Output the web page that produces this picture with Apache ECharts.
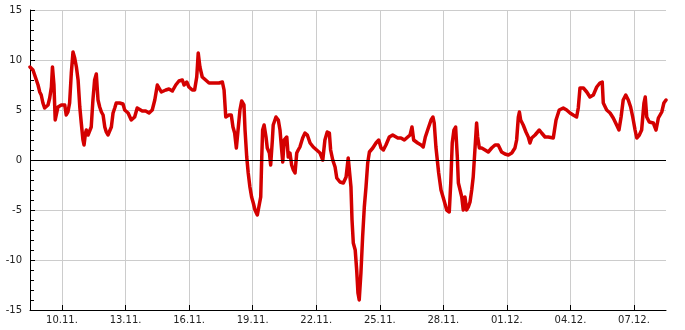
<!DOCTYPE html>
<html>
<head>
<meta charset="utf-8">
<script src="https://cdn.jsdelivr.net/npm/echarts@6/dist/echarts.min.js"></script>
<style>
html,body{margin:0;padding:0;background:#fff;}
#chart{width:685px;height:330px;}
</style>
</head>
<body>
<div id="chart"></div>
<script>
// x values: day of November (1.11. 00:00 = 1); values > 30 continue into December
const days = [
  8.49,8.63,8.71,8.87,8.95,9.02,9.10,9.18,9.26,9.34,
  9.42,9.50,9.55,9.62,9.68,9.72,9.81,9.97,10.13,10.20,
  10.28,10.36,10.44,10.52,10.60,10.68,10.76,10.84,10.91,10.99,
  11.04,11.11,11.15,11.23,11.31,11.38,11.46,11.54,11.62,11.70,
  11.78,11.86,11.94,12.02,12.09,12.17,12.25,12.33,12.41,12.49,
  12.56,12.72,12.79,12.88,12.96,13.12,13.27,13.35,13.43,13.55,
  13.63,13.79,13.95,14.11,14.26,14.38,14.50,14.58,14.69,14.90,
  15.05,15.21,15.37,15.52,15.68,15.76,15.89,15.99,16.15,16.26,
  16.36,16.43,16.51,16.62,16.78,16.94,17.17,17.41,17.57,17.65,
  17.73,17.88,17.99,18.07,18.15,18.23,18.31,18.40,18.48,18.59,
  18.64,18.72,18.79,18.87,18.95,19.03,19.11,19.22,19.31,19.38,
  19.43,19.47,19.54,19.63,19.69,19.79,19.85,19.93,19.97,20.10,
  20.21,20.29,20.37,20.42,20.49,20.61,20.68,20.76,20.84,20.92,
  21.00,21.08,21.15,21.23,21.36,21.47,21.58,21.71,21.86,22.02,
  22.18,22.31,22.41,22.52,22.62,22.68,22.78,22.89,22.97,23.12,
  23.28,23.41,23.51,23.57,23.64,23.69,23.75,23.84,23.91,23.97,
  24.03,24.11,24.19,24.27,24.35,24.43,24.51,24.67,24.82,24.95,
  25.06,25.17,25.29,25.45,25.61,25.85,26.00,26.16,26.32,26.43,
  26.52,26.60,26.79,26.95,27.05,27.15,27.26,27.42,27.51,27.57,
  27.65,27.78,27.89,28.00,28.08,28.16,28.28,28.35,28.42,28.50,
  28.58,28.66,28.71,28.79,28.87,28.94,29.02,29.10,29.18,29.26,
  29.34,29.41,29.49,29.57,29.62,29.70,29.81,29.97,30.12,30.28,
  30.44,30.59,30.75,30.91,31.07,31.23,31.38,31.46,31.54,31.59,
  31.65,31.77,31.90,32.01,32.09,32.17,32.33,32.53,32.64,32.80,
  32.95,33.19,33.32,33.47,33.66,33.82,33.98,34.13,34.29,34.37,
  34.45,34.61,34.77,34.92,35.08,35.24,35.39,35.50,35.55,35.71,
  35.87,36.02,36.18,36.29,36.39,36.49,36.61,36.73,36.84,36.94,
  37.05,37.13,37.25,37.36,37.47,37.53,37.60,37.72,37.91,38.04,
  38.15,38.31,38.41,38.51
];
const values = [
  9.3,9.0,8.5,7.5,6.8,6.5,5.7,5.2,5.3,5.5,
  6.2,7.3,9.3,7.5,4.0,3.9,5.3,5.5,5.5,4.5,
  4.8,5.7,8.7,10.8,10.2,9.3,8.0,5.3,3.7,2.0,
  1.5,2.7,3.0,2.5,2.3,3.3,6.0,8.0,8.6,6.0,
  5.3,4.8,4.5,3.3,2.8,2.5,2.6,3.3,4.7,5.2,
  5.7,5.7,5.9,5.6,5.0,4.7,4.0,3.8,4.3,5.2,
  5.3,4.9,4.9,4.7,5.0,6.0,7.5,7.7,6.8,7.0,
  7.1,6.9,7.5,7.9,8.0,7.5,7.8,7.3,7.0,7.0,
  8.3,10.7,9.3,8.3,8.0,7.7,7.7,7.7,7.8,7.0,
  4.3,4.5,4.5,3.3,2.7,1.2,1.2,5.0,5.9,5.5,
  3.0,0.3,-1.3,-2.7,-3.7,-4.3,-5.0,-5.5,-5.7,-3.7,
  0.3,3.0,3.5,2.3,1.2,0.7,-0.5,2.0,3.5,4.3,
  4.0,3.0,1.0,-0.2,2.0,2.3,0.3,0.7,-0.5,-1.0,
  -1.3,0.7,1.0,1.3,2.2,2.7,2.5,1.7,1.3,1.0,
  0.7,0.0,2.0,2.8,2.7,1.0,0.0,-0.7,-1.8,-2.2,
  -2.3,-1.7,0.2,0.0,-2.7,-6.0,-8.3,-9.0,-11.0,-13.3,
  -14.0,-11.3,-7.7,-4.7,-2.7,-0.3,0.8,1.2,1.7,2.0,
  1.2,1.0,1.5,2.3,2.5,2.2,2.2,2.0,2.3,2.5,
  3.3,2.0,1.7,1.5,1.3,2.3,3.0,4.0,4.3,3.7,
  1.3,-1.3,-3.0,-3.8,-4.0,-5.0,-5.2,-2.3,1.7,3.0,
  3.3,0.3,-2.3,-3.0,-3.7,-5.0,-3.7,-5.0,-4.7,-4.2,
  -3.0,-1.7,1.0,3.7,2.3,1.2,1.2,1.0,0.8,1.2,
  1.5,1.5,0.8,0.6,0.5,0.7,1.2,2.0,4.3,4.8,
  4.0,3.5,2.8,2.3,1.7,2.2,2.5,3.0,2.7,2.3,
  2.3,2.2,4.0,5.0,5.2,5.0,4.7,4.5,4.3,5.2,
  7.2,7.2,6.8,6.3,6.5,7.3,7.7,7.8,5.7,5.0,
  4.7,4.2,3.5,3.0,4.3,6.0,6.5,6.0,5.3,4.3,
  3.0,2.2,2.5,3.0,5.7,6.3,4.3,3.8,3.7,3.0,
  4.2,4.8,5.7,6.0
];
const xTickDays = [10,13,16,19,22,25,28,31,34,37];
const yTicks = [-15,-10,-5,0,5,10,15];

function dayLabel(v) {
  let d = Math.round(v), m = 11;
  if (d > 30) { d -= 30; m = 12; }
  return String(d).padStart(2,'0') + '.' + String(m) + '.';
}

const seriesData = days.map((d, i) => [d, values[i]]);
const font = 'DejaVu Sans';

const chart = echarts.init(document.getElementById('chart'), null, {renderer: 'canvas'});
chart.setOption({
  animation: false,
  backgroundColor: '#ffffff',
  grid: {left: 30, right: 19, top: 10, bottom: 20, containLabel: false},
  xAxis: {
    type: 'value',
    min: 8.49,
    max: 38.51,
    axisLine: {show: true, onZero: false, lineStyle: {color: '#000', width: 1}},
    axisTick: {show: true, inside: true, length: 5, customValues: xTickDays, lineStyle: {color: '#000'}},
    axisLabel: {
      show: true, customValues: xTickDays, formatter: dayLabel,
      color: '#222', fontFamily: font, fontSize: 10, margin: 5
    },
    splitLine: {show: true, lineStyle: {color: '#cccccc', width: 1}}
  },
  yAxis: {
    type: 'value',
    min: yTicks[0],
    max: yTicks[yTicks.length - 1],
    interval: 5,
    axisLine: {show: true, lineStyle: {color: '#000', width: 1}},
    axisTick: {show: true, inside: true, length: 5, lineStyle: {color: '#000'}},
    minorTick: {show: true, splitNumber: 5, length: 4, lineStyle: {color: '#000'}},
    axisLabel: {color: '#222', fontFamily: font, fontSize: 10, margin: 8},
    splitLine: {show: true, lineStyle: {color: '#cccccc', width: 1}}
  },
  series: [
    {
      type: 'line',
      data: [],
      z: 1,
      silent: true,
      markLine: {
        silent: true,
        symbol: ['none', 'none'],
        label: {show: false},
        lineStyle: {color: '#000', width: 1, type: 'solid'},
        data: [{yAxis: 0}]
      }
    },
    {
      type: 'line',
      data: seriesData,
      z: 3,
      showSymbol: false,
      symbol: 'none',
      lineStyle: {color: '#d40000', width: 3.5, join: 'round', cap: 'round'},
      itemStyle: {color: '#d40000'}
    }
  ]
});
</script>
</body>
</html>
